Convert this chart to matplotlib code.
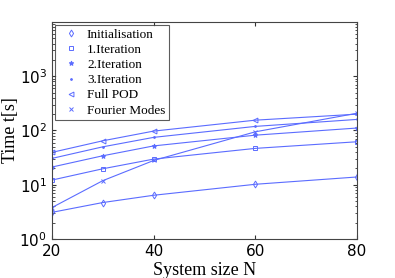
import matplotlib
matplotlib.use("Agg")
import matplotlib.pyplot as plt
from matplotlib.lines import Line2D
from matplotlib.ticker import LogLocator, NullFormatter

# System sizes
N = [20, 30, 40, 60, 80]

# Times in seconds
t_init = [3.1, 4.7, 6.4, 10.2, 13.9]
t_iter1 = [12.2, 19.7, 29.7, 46.8, 62]
t_iter2 = [21.2, 34.2, 52, 82, 111]
t_iter3 = [30.6, 50, 74.7, 119, 160]
t_fullpod = [39.5, 64.6, 97.5, 155, 200]
t_fourier = [3.8, 11.9, 28, 94.6, 208]

labels = ["Initialisation", "1.Iteration", "2.Iteration", "3.Iteration",
          "Full POD", "Fourier Modes"]
series = [t_init, t_iter1, t_iter2, t_iter3, t_fullpod, t_fourier]
markers = ["d", "s", "*", ".", "<", "x"]
msizes = [3.5, 3, 3.5, 2.5, 3.5, 2.5]
filled = [False, False, True, True, False, False]

col = "#5b6cff"

fig = plt.figure(figsize=(3.95, 2.78), dpi=100)
ax = fig.add_axes([0.1316, 0.1403, 0.7722, 0.7806])

handles = []
for y, m, ms, f, lab in zip(series, markers, msizes, filled, labels):
    fc = col if f else "none"
    ax.plot(N, y, color=col, lw=0.8, marker=m, ms=ms, mfc=fc, mec=col, mew=0.7)
    handles.append(Line2D([], [], ls="none", marker=m, ms=ms, color=col,
                          mfc=fc, mew=0.7, label=lab))

ax.set_yscale("log")
ax.set_xlim(20, 80)
ax.set_ylim(1, 1e4)
ax.set_xticks([20, 40, 60, 80])
ax.yaxis.set_major_locator(LogLocator(base=10, numticks=10))
ax.yaxis.set_minor_locator(LogLocator(base=10, subs=range(2, 10), numticks=10))
ax.yaxis.set_minor_formatter(NullFormatter())
ax.set_yticks([1, 10, 100, 1000])

ax.tick_params(which="both", direction="in", top=True, right=True,
               labelsize=11, color="#333333")
ax.tick_params(which="major", length=3)
ax.tick_params(which="minor", length=1.8)
for s in ax.spines.values():
    s.set_color("#444444")
    s.set_linewidth(0.8)

ax.set_xlabel("System size N", family="Liberation Serif", fontsize=13, labelpad=2)
ax.set_ylabel("Time t[s]", family="Liberation Serif", fontsize=13, labelpad=0)

leg = ax.legend(handles=handles, loc="upper left", prop={"family": "Liberation Serif", "size": 9.5},
                frameon=True, fancybox=False, edgecolor="#333333", borderpad=0.3,
                labelspacing=0.22, handletextpad=0.25, borderaxespad=0.2,
                handlelength=1.9)
leg.get_frame().set_linewidth(0.8)

fig.savefig("out.png", dpi=100)
